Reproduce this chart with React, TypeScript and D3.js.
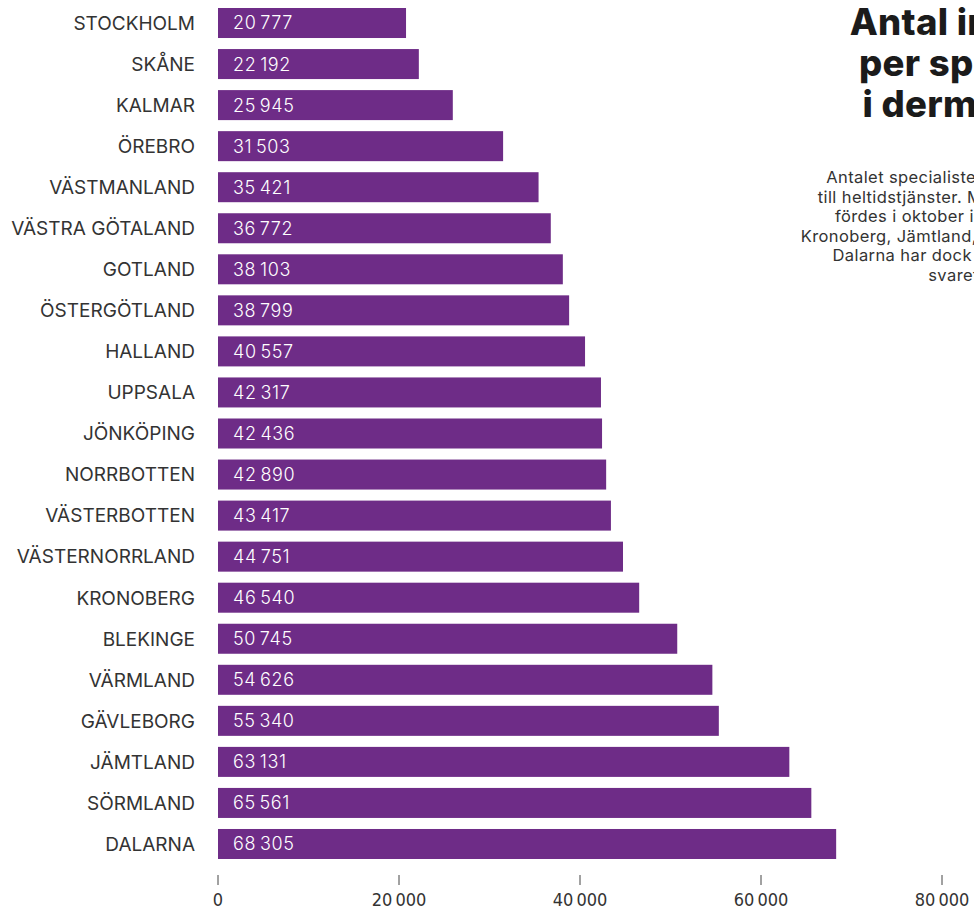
import React from "react";
import * as d3 from "d3";

const regions = ["STOCKHOLM","SKÅNE","KALMAR","ÖREBRO","VÄSTMANLAND","VÄSTRA GÖTALAND","GOTLAND","ÖSTERGÖTLAND","HALLAND","UPPSALA","JÖNKÖPING","NORRBOTTEN","VÄSTERBOTTEN","VÄSTERNORRLAND","KRONOBERG","BLEKINGE","VÄRMLAND","GÄVLEBORG","JÄMTLAND","SÖRMLAND","DALARNA"];
const values = [20777,22192,25945,31503,35421,36772,38103,38799,40557,42317,42436,42890,43417,44751,46540,50745,54626,55340,63131,65561,68305];
const tickValues = [0,20000,40000,60000,80000];
const titleLines = ["Antal invånare","per specialist","i dermatologi"];
const subtitleLines = [
  "Antalet specialisterna har räknats om",
  "till heltidstjänster. Mätningarna genom-",
  "fördes i oktober i fjol – i regionerna",
  "Kronoberg, Jämtland, Sörmland, Skåne och",
  "Dalarna har dock fler anslutit sedan",
  "svaret gavs.",
];

const fmt = (v: number) => d3.format(",")(v).replace(/,/g, "\u2009");

export default function App() {
  const W = 974, H = 911;
  const x = d3.scaleLinear().domain([0, 80000]).range([218, 942]);
  const y = d3.scaleBand().domain(regions).range([0, 867]).paddingInner(0.269).paddingOuter(0.195);
  const color = "#6e2c87";
  const font = "Inter, 'Noto Sans', sans-serif";
  const axisFont = "'Liberation Sans Narrow', 'DejaVu Sans Condensed', 'Liberation Sans', sans-serif";
  return (
    <svg width={W} height={H} style={{ position: "absolute", left: 0, top: 0, background: "#fff" }} fontFamily={font}>
      {regions.map((r, i) => (
        <g key={r}>
          <rect x={x(0)} y={y(r)} width={x(values[i]) - x(0)} height={y.bandwidth()} fill={color} />
          <text x={x(0) - 23} y={y(r)! + y.bandwidth() / 2} dy="0.36em" textAnchor="end" fontSize={19} fill="#333" fontWeight={400}>{r}</text>
          <text x={x(0) + 15} y={y(r)! + y.bandwidth() / 2} dy="0.36em" fontSize={18} fill="#fff" fontWeight={300} letterSpacing="0.6">{fmt(values[i])}</text>
        </g>
      ))}
      {tickValues.map((t) => (
        <g key={t}>
          <line x1={x(t)} x2={x(t)} y1={875} y2={885} stroke="#444" strokeWidth={1} />
          <text x={x(t)} y={906} textAnchor="middle" fontSize={18} fill="#333" fontFamily={axisFont} fontStretch="condensed">{fmt(t)}</text>
        </g>
      ))}
      {titleLines.map((l, i) => (
        <text key={l} x={983} y={35 + i * 41} textAnchor="middle" fontSize={36.5} fontWeight={800} fill="#1b1b1b" letterSpacing="0.3">{l}</text>
      ))}
      {subtitleLines.map((l, i) => (
        <text key={l} x={978} y={183 + i * 19.5} textAnchor="middle" fontSize={16.5} fill="#333" letterSpacing="0.4">{l}</text>
      ))}
    </svg>
  );
}
